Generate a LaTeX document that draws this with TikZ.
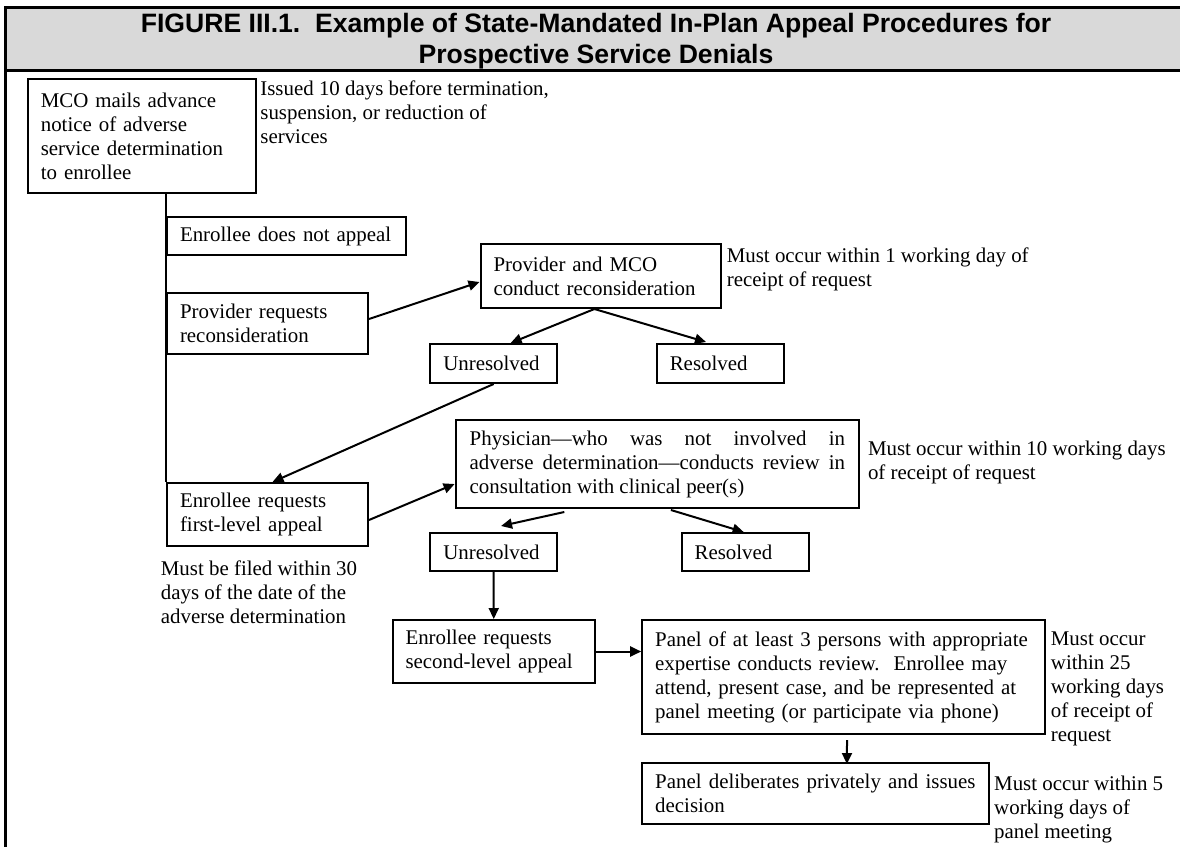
\documentclass[tikz,border=0pt]{standalone}
\usepackage{fontspec}
\setmainfont{Liberation Serif}
\newfontfamily\titlefont{Liberation Sans}
\usetikzlibrary{arrows.meta,calc}
\newcommand\bodyfnt{\fontsize{20.9}{24}\selectfont}
\newcommand\titlefnt{\titlefont\bfseries\fontsize{26.6}{31}\selectfont}
\begin{document}
\begin{tikzpicture}[x=1pt,y=-1pt,
  box/.style={draw, line width=2pt, anchor=north west, inner xsep=13pt, inner ysep=0pt, align=left, font=\bodyfnt},
  note/.style={anchor=north west, inner sep=0pt, align=left, font=\bodyfnt},
  conn/.style={line width=2pt, -{Triangle[length=11pt,width=10pt]}},
  frameline/.style={line width=2.5pt}
]
\useasboundingbox (0,0) rectangle (1180,846);
% frame and title band
\fill[black!15] (5.7,7.5) rectangle (1190,70.7);
\draw[frameline] (1190,7.5) -- (5.7,7.5) -- (5.7,850);
\draw[frameline] (5.7,70.7) -- (1190,70.7);
\node[font=\titlefnt, align=center, anchor=north, inner sep=0pt] (title) at (596,13)
  {FIGURE III.1.\ \ Example of State-Mandated In-Plan Appeal Procedures for\\Prospective Service Denials};

% boxes
\node[box, text width=201.7pt, minimum height=114pt] (mco) at (26.8,78)
  {MCO mails advance\\notice of adverse\\service determination\\to enrollee};
\node[box, text width=213pt, minimum height=38pt] (nap) at (166,216) {Enrollee does not appeal};
\node[box, text width=175pt, minimum height=61pt] (prr) at (166,292) {Provider requests\\reconsideration};
\node[box, text width=214.2pt, minimum height=64pt] (pmco) at (479.5,243) {Provider and MCO\\conduct reconsideration};
\node[box, text width=100.7pt, minimum height=39pt] (unr1) at (429.3,343) {Unresolved};
\node[box, text width=101pt, minimum height=39pt] (res1) at (655.8,343) {Resolved};
\node[box, text width=175pt, minimum height=63pt] (fla) at (166,482) {Enrollee requests\\first-level appeal};
\node[box, inner xsep=14.1pt, text width=375.4pt, minimum height=88pt, align=justify] (phys) at (454.6,419)
  {Physician—who was not involved in\linebreak adverse determination—conducts review in\linebreak consultation with clinical peer(s)};
\node[box, text width=100.7pt, minimum height=38pt] (unr2) at (429.3,532) {Unresolved};
\node[box, text width=101.1pt, minimum height=38pt] (res2) at (680.6,532) {Resolved};
\node[box, text width=176.5pt, minimum height=63pt] (sla) at (391.5,619) {Enrollee requests\\second-level appeal};
\node[box, text width=377pt, minimum height=114pt] (panel) at (641.2,619)
  {Panel of at least 3 persons with appropriate\\expertise conducts review.\ \ Enrollee may\\attend, present case, and be represented at\\panel meeting (or participate via phone)};
\node[box, text width=320.3pt, minimum height=61pt, align=justify] (delib) at (641.2,762)
  {Panel deliberates privately and issues\linebreak decision};

% notes
\node[note] (n1) at (260.2,80.7) {Issued 10 days before termination,\\suspension, or reduction of\\services};
\node[note] (n2) at (726.6,247.7) {Must occur within 1 working day of\\receipt of request};
\node[note] (n3) at (160.7,560.7) {Must be filed within 30\\days of the date of the\\adverse determination};
\node[note] (n4) at (867.8,440.7) {Must occur within 10 working days\\of receipt of request};
\node[note] (n5) at (1050.7,631.7) {Must occur\\within 25\\working days\\of receipt of\\request};
\node[note] (n6) at (994,775.7) {Must occur within 5\\working days of\\panel meeting};

% connectors
\draw[line width=2pt] (mco.south -| nap.west) -- (fla.north west);
\draw[conn] ($(prr.east)+(0,-4.5)$) -- ($(pmco.west)+(0,6)$);
\draw[conn] ($(pmco.south)+(-6.2,0)$) -- ($(unr1.north)+(17,0)$);
\draw[conn] ($(pmco.south)+(-6.2,0)$) -- ($(res1.north)+(-14.3,-1)$);
\draw[conn] (unr1.south) -- ($(fla.north)+(5,0)$);
\draw[conn] ($(fla.east)+(0,5.5)$) -- ($(phys.west)+(0,20)$);
\draw[conn] ($(phys.south)+(-93.1,3)$) -- ($(unr2.north)+(7.4,-6)$);
\draw[conn] ($(phys.south)+(13.5,1)$) -- ($(res2.north)+(-1.5,0)$);
\draw[conn] (unr2.south) -- (sla.north);
\draw[conn] (sla.east) -- (sla.east -| panel.west);
\draw[conn] ($(panel.south)+(3.3,5)$) -- ($(delib.north)+(31.6,2)$);
\end{tikzpicture}
\end{document}
